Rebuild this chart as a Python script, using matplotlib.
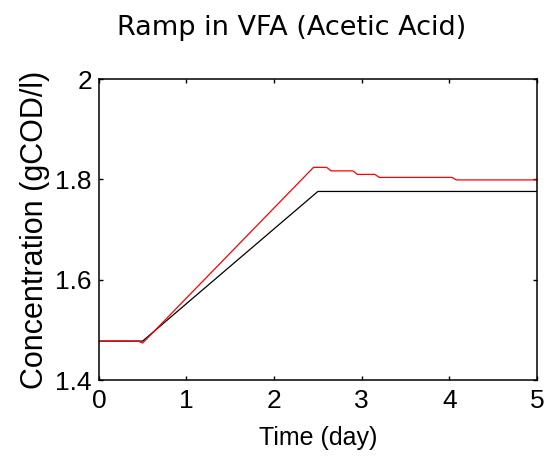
import matplotlib.pyplot as plt
import numpy as np

# black: model response, red: measured/alternative
t_black = [0, 0.5, 2.5, 5]
c_black = [1.478, 1.478, 1.776, 1.776]

t_red = [0, 0.45, 0.5, 2.45, 2.6, 2.65, 2.9, 2.95, 3.15, 3.2, 4.03, 4.08, 5]
c_red = [1.478, 1.478, 1.474, 1.824, 1.824, 1.817, 1.817, 1.810, 1.810, 1.804, 1.804, 1.799, 1.799]

lab_font = 'Liberation Sans'

fig = plt.figure(figsize=(5.49, 4.62), dpi=100)
ax = fig.add_axes([0.180, 0.177, 0.798, 0.652])
ax.plot(t_black, c_black, color='black', lw=0.9)
ax.plot(t_red, c_red, color='red', lw=0.9)
ax.set_xlim(0, 5)
ax.set_ylim(1.4, 2)
ax.set_xticks([0, 1, 2, 3, 4, 5])
ax.set_yticks([1.4, 1.6, 1.8, 2])
ax.set_xticklabels(['0', '1', '2', '3', '4', '5'], family=lab_font, fontsize=19)
ax.set_yticklabels(['1.4', '1.6', '1.8', '2'], family=lab_font, fontsize=19)
ax.tick_params(direction='in', top=True, right=True, length=3, width=1)
ax.tick_params(axis='x', pad=6)
ax.tick_params(axis='y', pad=5)
for s in ax.spines.values():
    s.set_linewidth(1.1)
ax.set_xlabel('Time (day)', fontsize=18, family=lab_font, labelpad=10)
ax.set_ylabel('Concentration (gCOD/l)', fontsize=22, family=lab_font, labelpad=4)
fig.text(0.532, 0.94, 'Ramp in VFA (Acetic Acid)', fontsize=19.5, ha='center', va='center')
fig.savefig('out.png', dpi=100)
